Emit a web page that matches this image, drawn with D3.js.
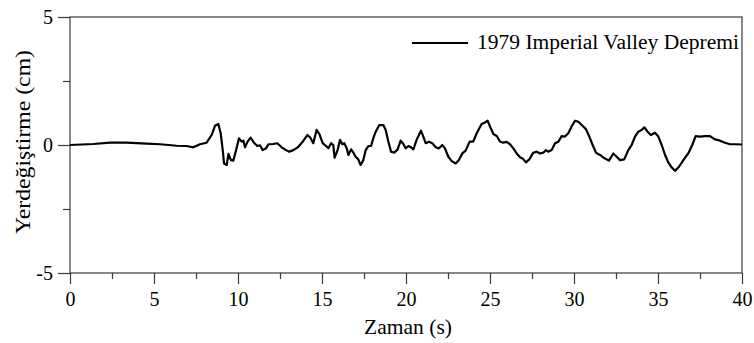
<!DOCTYPE html>
<html>
<head>
<meta charset="utf-8">
<script src="https://cdn.jsdelivr.net/npm/d3@7"></script>
<style>
html,body{margin:0;padding:0;background:#fff;}
svg{display:block;}
</style>
</head>
<body>
<svg id="chart" width="754" height="343"></svg>
<script>
const seriesName = "1979 Imperial Valley Depremi";
const xTicks = [0, 5, 10, 15, 20, 25, 30, 35, 40];
const xMinorTicks = [2.5, 7.5, 12.5, 17.5, 22.5, 27.5, 32.5, 37.5];
const yTicks = [-5, 0, 5];
const yMinorTicks = [-2.5, 2.5];
const xTitle = "Zaman (s)";
const yTitle = "Yerdeğiştirme (cm)";

const time = [0,1.39,2.38,3.37,4.56,5.36,6.35,6.94,7.34,7.74,8.13,8.43,8.63,8.83,8.97,9.09,9.17,9.33,9.43,9.58,9.72,9.88,10.06,10.22,10.32,10.42,10.57,10.75,10.95,11.15,11.31,11.47,11.67,11.81,12.1,12.34,12.6,12.86,13.05,13.3,13.59,13.85,14.13,14.29,14.48,14.68,14.84,15.04,15.24,15.38,15.54,15.67,15.75,15.93,16.07,16.21,16.33,16.47,16.57,16.73,16.87,17.0,17.16,17.3,17.46,17.6,17.76,17.92,18.05,18.2,18.41,18.65,18.79,18.95,19.11,19.3,19.5,19.68,19.84,19.98,20.14,20.3,20.44,20.63,20.89,21.03,21.17,21.37,21.57,21.77,21.96,22.16,22.32,22.52,22.72,22.96,23.15,23.35,23.55,23.79,24.0,24.21,24.5,24.7,24.86,25.0,25.2,25.4,25.6,25.79,25.99,26.19,26.39,26.59,26.79,26.98,27.14,27.34,27.58,27.78,27.98,28.17,28.33,28.47,28.67,28.87,29.07,29.27,29.46,29.66,29.86,30.06,30.26,30.46,30.71,30.91,31.11,31.31,31.55,31.82,32.08,32.34,32.54,32.74,32.99,33.23,33.43,33.63,33.83,34.03,34.19,34.38,34.58,34.82,35.02,35.22,35.42,35.62,35.82,36.01,36.25,36.51,36.8,37.04,37.24,37.5,37.8,38.1,38.39,38.69,38.99,39.29,39.58,40];
const displacement = [0,0.04,0.09,0.09,0.05,0.03,-0.03,-0.04,-0.09,0.03,0.09,0.39,0.75,0.82,0.46,-0.2,-0.72,-0.78,-0.35,-0.59,-0.61,-0.22,0.26,0.13,0.17,-0.09,0.13,0.29,0.09,-0.04,-0.01,-0.2,-0.13,0.03,0.04,0.07,-0.09,-0.2,-0.26,-0.2,-0.07,0.13,0.39,0.3,0.07,0.59,0.43,0.07,-0.04,-0.13,0.07,0,-0.49,-0.2,0.2,0.03,0.07,-0.13,-0.39,-0.17,-0.3,-0.46,-0.56,-0.78,-0.59,-0.2,-0.04,-0.04,0.26,0.52,0.78,0.78,0.59,0.13,-0.26,-0.3,-0.17,0.17,0.04,-0.13,-0.04,-0.09,-0.17,0.2,0.56,0.33,0.07,0.13,0.07,-0.09,-0.13,0,-0.13,-0.46,-0.63,-0.72,-0.59,-0.33,-0.22,0.13,0.13,0.46,0.82,0.88,0.95,0.72,0.43,0.35,0.13,0.09,0.12,0.03,-0.13,-0.33,-0.48,-0.55,-0.68,-0.56,-0.3,-0.26,-0.33,-0.3,-0.2,-0.26,-0.2,0.07,0.13,0.35,0.33,0.46,0.72,0.95,0.91,0.78,0.62,0.33,0,-0.3,-0.39,-0.52,-0.61,-0.33,-0.46,-0.59,-0.56,-0.2,0,0.33,0.52,0.59,0.69,0.52,0.39,0.48,0.33,0,-0.39,-0.69,-0.88,-1.01,-0.85,-0.59,-0.33,0,0.35,0.33,0.35,0.35,0.22,0.17,0.09,0.03,0.03,0.02];

const data = time.map((t, i) => ({t, v: displacement[i]}));
const FONT = '"Times New Roman", "Liberation Serif", Tinos, "DejaVu Serif", serif';

const svg = d3.select("#chart");
const x = d3.scaleLinear().domain([0, 40]).range([70, 742]);
const y = d3.scaleLinear().domain([-5, 5]).range([273, 17]);
const axisColor = "#3a3a3a";

svg.append("rect").attr("x", x(0)).attr("y", y(5))
  .attr("width", x(40) - x(0)).attr("height", y(-5) - y(5))
  .attr("fill", "none").attr("stroke", axisColor).attr("stroke-width", 1.2);

const fmt = d => String(d);
const gx = svg.append("g").attr("transform", `translate(0,${y(-5)})`)
  .call(d3.axisBottom(x).tickValues(xTicks).tickSize(11).tickPadding(8).tickFormat(fmt));
const gxm = svg.append("g").attr("transform", `translate(0,${y(-5)})`)
  .call(d3.axisBottom(x).tickValues(xMinorTicks).tickSize(6).tickFormat(""));
const gy = svg.append("g").attr("transform", `translate(${x(0)},0)`)
  .call(d3.axisLeft(y).tickValues(yTicks).tickSize(12).tickPadding(5).tickFormat(fmt));
const gym = svg.append("g").attr("transform", `translate(${x(0)},0)`)
  .call(d3.axisLeft(y).tickValues(yMinorTicks).tickSize(7).tickFormat(""));

[gx, gxm, gy, gym].forEach(g => {
  g.attr("font-family", FONT).attr("font-size", 20);
  g.select(".domain").remove();
  g.selectAll("line").attr("stroke", axisColor).attr("stroke-width", 1.2);
  g.selectAll("text").attr("font-family", FONT).attr("font-size", 20).attr("fill", "#000");
});

svg.append("path").datum(data)
  .attr("fill", "none").attr("stroke", "#000").attr("stroke-width", 2.2)
  .attr("stroke-linejoin", "round")
  .attr("d", d3.line().x(d => x(d.t)).y(d => y(d.v)));

svg.append("text").attr("x", (x(0) + x(40)) / 2 + 2).attr("y", 334)
  .attr("text-anchor", "middle").attr("font-family", FONT).attr("font-size", 21)
  .attr("textLength", 88).attr("lengthAdjust", "spacingAndGlyphs").text(xTitle);
svg.append("text").attr("transform", `translate(30,${y(0) - 3}) rotate(-90)`)
  .attr("text-anchor", "middle").attr("font-family", FONT).attr("font-size", 21)
  .attr("textLength", 184).attr("lengthAdjust", "spacingAndGlyphs").text(yTitle);

svg.append("line").attr("x1", 412).attr("x2", 468).attr("y1", 43).attr("y2", 43)
  .attr("stroke", "#000").attr("stroke-width", 2.2);
svg.append("text").attr("x", 477).attr("y", 49).attr("font-family", FONT).attr("font-size", 20)
  .attr("textLength", 262).attr("lengthAdjust", "spacingAndGlyphs").text(seriesName);
</script>
</body>
</html>
